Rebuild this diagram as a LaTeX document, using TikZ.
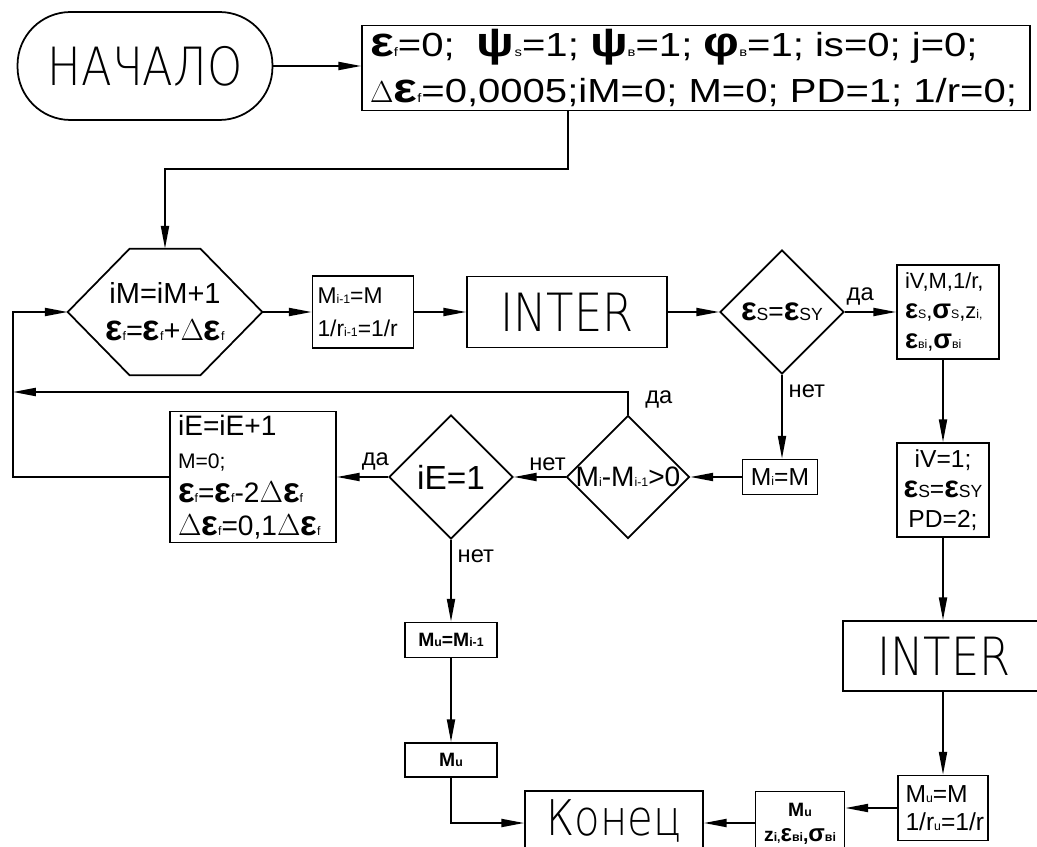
\documentclass[tikz,border=0pt]{standalone}
\usepackage{fontspec}
\setmainfont{Liberation Sans}
\newfontfamily\widefont[FakeStretch=1.2]{Liberation Sans}
\newfontfamily\cadfont[FakeStretch=0.85]{DejaVu Sans ExtraLight}
\usetikzlibrary{positioning,shapes.geometric,arrows.meta}
\newcommand\fsz[2]{\fontsize{#1}{#2}\selectfont}
\newcommand\ix[1]{{\fontsize{7}{8}\selectfont #1}}
\newcommand\mx[1]{{\fontsize{10}{11}\selectfont #1}}
\newcommand\gk[1]{\scalebox{1.25}{\bfseries #1}}
\tikzset{
  arr/.style={-{Triangle[length=13pt,width=4.6pt]}, line width=1pt},
  blk/.style={draw, line width=1pt, inner sep=2pt, align=center},
  cond/.style={diamond, draw, line width=1pt, inner sep=0pt, aspect=1},
  lbl/.style={font=\fsz{13.5}{13.5}},
}
\begin{document}
\begin{tikzpicture}[x=0.02cm, y=-0.02cm]
\useasboundingbox (0,0) rectangle (1037,847);

% Define nodes with their coordinates
\node[blk, rounded corners=1.06cm, minimum width=5.1cm, minimum height=2.16cm, font=\cadfont\fsz{30}{30}] (start) at (145,66) {НАЧАЛО};
\node[blk, text width=13.04cm, inner xsep=0.16cm, minimum height=1.7cm, align=left, font=\widefont\fsz{19}{26}] (init) at (696,68)
  {\gk{ε}\ix{f}=0;\ \ \gk{ψ}\ix{s}=1; \gk{ψ}\ix{в}=1; \gk{φ}\ix{в}=1; is=0; j=0;\\ $\Delta$\gk{ε}\ix{f}=0,0005;iM=0; M=0; PD=1; 1/r=0;};
\node[minimum width=3.88cm, minimum height=2.52cm, align=center, font=\fsz{16.5}{21}] (hex) at (165,312)
  {iM=iM+1\\ \gk{ε}\ix{f}=\gk{ε}\ix{f}+$\Delta$\gk{ε}\ix{f}};
\node[blk, text width=1.82cm, inner xsep=0.1cm, minimum height=1.44cm, align=left, font=\fsz{13}{19}] (mprev) at (363,312)
  {M\ix{i-1}=M\\ 1/r\ix{i-1}=1/r};
\node[blk, minimum width=4cm, minimum height=1.42cm, font=\cadfont\fsz{30}{30}] (inter) at (567,312) {INTER};
\node[cond, minimum size=2.48cm, label={[font=\fsz{15}{15}]center:{\gk{ε}\mx{S}=\gk{ε}\mx{SY}}}] (cheps) at (782,312) {};
\node[blk, text width=1.72cm, inner xsep=0.16cm, minimum height=1.88cm, align=left, font=\fsz{12.5}{17}] (ivbox) at (948,312)
  {iV,M,1/r,\\ \gk{ε}\ix{S},\gk{σ}\ix{S},z\ix{i,}\\ \gk{ε}\ix{вi},\gk{σ}\ix{вi}};
\node[blk, minimum width=1.84cm, minimum height=1.88cm, font=\fsz{14}{17}] (iv1) at (943,490)
  {iV=1;\\ \gk{ε}\mx{S}=\gk{ε}\mx{SY}\\ PD=2;};
\node[blk, minimum width=4.04cm, minimum height=1.4cm, font=\cadfont\fsz{30}{30}] (inter2) at (944,656) {INTER};
\node[blk, text width=1.5cm, inner xsep=0.15cm, minimum height=1.3cm, align=left, font=\fsz{14}{16}] (mue) at (943,808)
  {M\ix{u}=M\\ 1/r\ix{u}=1/r};
\node[blk, minimum width=1.78cm, minimum height=1.3cm, font=\bfseries\fsz{11}{14}] (muz) at (800,824)
  {M\ix{u}\\ z\ix{i,}\gk{ε}\ix{вi},\gk{σ}\ix{вi}};
\node[blk, minimum width=3.56cm, minimum height=1.28cm, font=\cadfont\fsz{28}{28}] (kon) at (614,823) {\raisebox{6pt}{Конец}};
\node[blk, minimum width=1.5cm, minimum height=0.7cm, font=\fsz{14}{14}] (mi) at (780,477) {M\ix{i}=M};
\node[cond, minimum size=2.46cm, label={[font=\fsz{16}{16}]center:{M\ix{i}-M\ix{i-1}>0}}] (cmp) at (628,477) {};
\node[cond, minimum size=2.48cm, label={[font=\fsz{19}{19}]center:{iE=1}}] (ie) at (451,477) {};
\node[blk, text width=3.0cm, inner xsep=0.16cm, minimum height=2.62cm, align=left, font=\fsz{16}{19}] (iebox) at (253,477)
  {iE=iE+1\\ {\fsz{12}{17}M=0;}\\ \gk{ε}\ix{f}=\gk{ε}\ix{f}-2$\Delta$\gk{ε}\ix{f}\\ $\Delta$\gk{ε}\ix{f}=0,1$\Delta$\gk{ε}\ix{f}};
\node[blk, minimum width=1.84cm, minimum height=0.7cm, font=\bfseries\fsz{11}{11}] (mu1) at (451,640) {M\ix{u}=M\ix{i-1}};
\node[blk, minimum width=1.84cm, minimum height=0.68cm, font=\bfseries\fsz{11}{11}] (mu) at (451,760) {M\ix{u}};
\coordinate (back) at (13,392);

% Hexagon outline
\draw[line width=1pt] (hex.west) -- ([xshift=1.24cm]hex.north west) -- ([xshift=-1.24cm]hex.north east)
  -- (hex.east) -- ([xshift=-1.24cm]hex.south east) -- ([xshift=1.24cm]hex.south west) -- cycle;

% Draw edges with labels
\draw[arr] (start.east) -- (start.east -| init.west);
\draw[arr] ([xshift=-2.56cm]init.south) -- ++(0,58) -| (hex.north);
\draw[arr] (hex.east) -- (mprev.west);
\draw[arr] (mprev.east) -- (inter.west);
\draw[arr] (inter.east) -- (cheps.west);
\draw[arr] (cheps.east) -- node[lbl, above, pos=0.3] {да} (ivbox.west);
\draw[arr] (iv1.north |- ivbox.south) -- (iv1.north);
\draw[arr] (iv1.south) -- (iv1.south |- inter2.north);
\draw[arr] (iv1.south |- inter2.south) -- (mue.north);
\draw[arr] (mue.west) -- (mue.west -| muz.east);
\draw[arr] (kon.east -| muz.west) -- (kon.east);
\draw[arr] (cheps.south) -- node[lbl, right, pos=0.2] {нет} (cheps.south |- mi.north);
\draw[arr] (mi.west) -- (cmp.east);
\draw[arr] (cmp.west) -- node[lbl, above, pos=0.35] {нет} (ie.east);
\draw[arr] (ie.west) -- node[lbl, above, pos=0.25] {да} (iebox.east);
\draw[arr] (ie.south) -- node[lbl, right, pos=0.2] {нет} (mu1.north);
\draw[arr] (mu1.south) -- (mu.north);
\draw[arr] (mu.south) |- (kon.west);
\draw[arr] (cmp.north) node[lbl, above right, xshift=6pt] {да} |- (back);
\draw[arr] (iebox.west) -| (back) |- (hex.west);

\end{tikzpicture}
\end{document}
